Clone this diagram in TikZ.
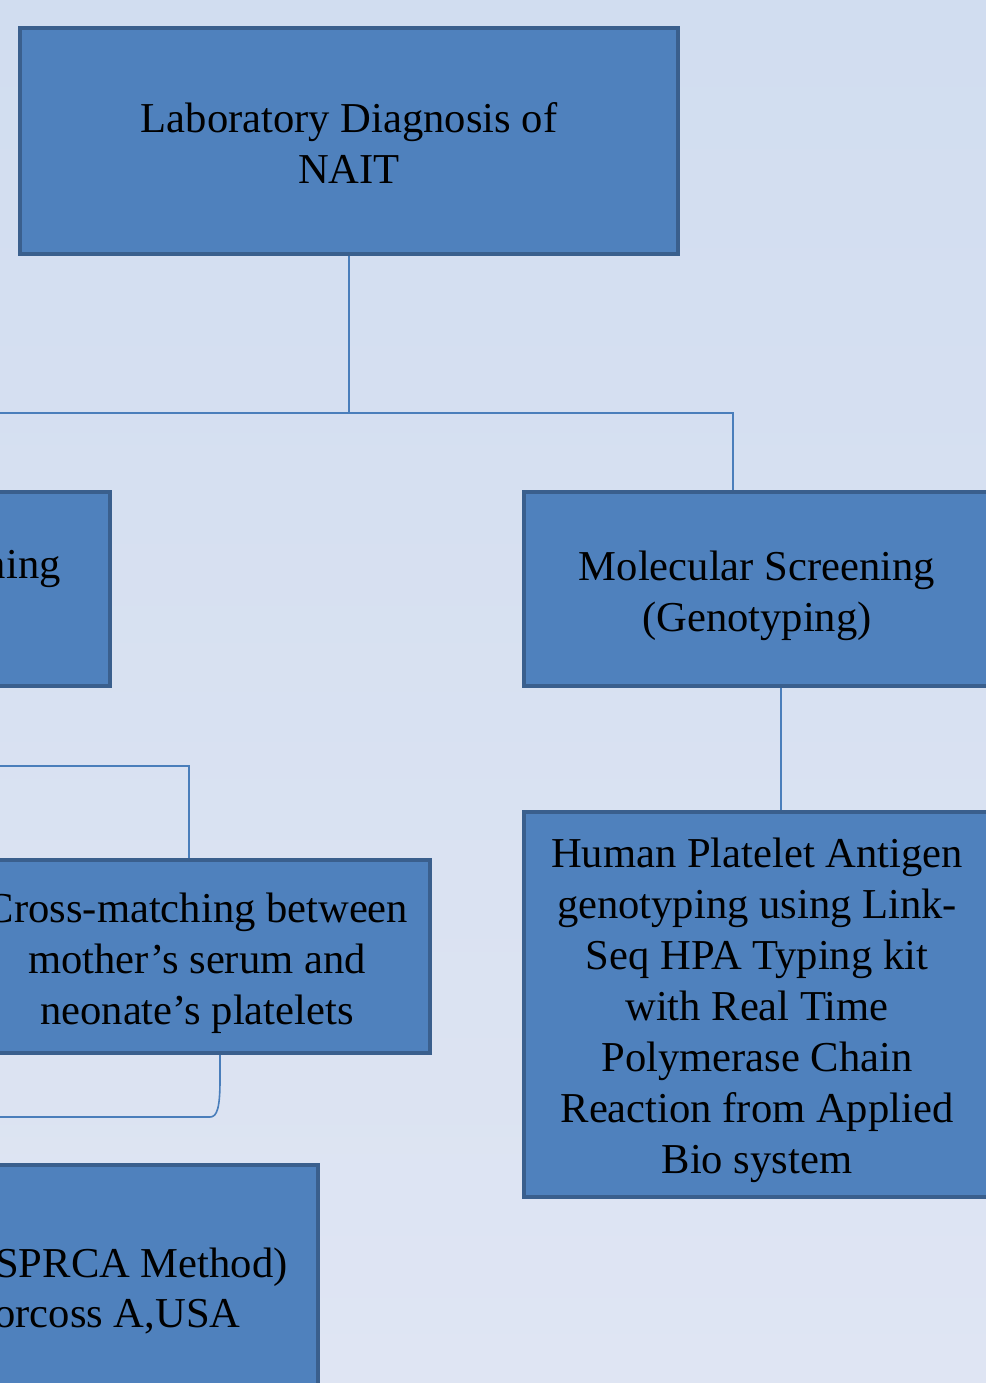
\documentclass[tikz,border=0pt]{standalone}
\usepackage{fontspec}
\setmainfont{Liberation Serif}
\usetikzlibrary{calc}
\definecolor{boxfill}{HTML}{4F81BD}
\definecolor{boxline}{HTML}{3A5F8D}
\definecolor{connc}{HTML}{4A7EBB}
\definecolor{bgtop}{HTML}{D1DDF0}
\definecolor{bgbot}{HTML}{DFE5F3}
\begin{document}
\begin{tikzpicture}[x=0.5pt,y=-0.5pt,
  box/.style={draw=boxline, line width=2pt, fill=boxfill, inner sep=0pt},
  txt/.style={inner sep=0pt, align=center, font=\fontsize{21.3}{25.5}\selectfont},
  conn/.style={draw=connc, line width=0.8pt}]
\useasboundingbox (0,0) rectangle (986,1383);
\clip (0,0) rectangle (986,1383);
\shade[top color=bgtop, bottom color=bgbot] (0,0) rectangle (986,1383);

\node[box, minimum width=329pt, minimum height=113pt] (top) at (349,141) {};
\node[txt] (toptxt) at ($(top.center)+(0,2)$) {Laboratory Diagnosis of\\NAIT};
\node[box, minimum width=205pt, minimum height=97pt] (left) at (-95,589) {};
\node[txt, anchor=east] (lefttxt) at (61,569) {ning};
\node[box, minimum width=233pt, minimum height=97pt] (mol) at (757,589) {};
\node[txt] (moltxt) at ($(mol.center)+(0,7)$) {Molecular Screening\\(Genotyping)};
\node[box, minimum width=233pt, minimum height=96.5pt] (cm) at (197,956.5) {};
\node[txt] (cmtxt) at ($(cm.center)+(0,7)$) {Cross-matching between\\mother’s serum and\\neonate’s platelets};
\node[box, minimum width=233pt, minimum height=192.5pt] (hpa) at (757,1004.5) {};
\node[txt] (hpatxt) at ($(hpa.center)+(0,6)$) {Human Platelet Antigen\\genotyping using Link-\\Seq HPA Typing kit\\with Real Time\\Polymerase Chain\\Reaction from Applied\\Bio system};
\node[box, minimum width=259pt, minimum height=150pt] (bot) at (59,1315) {};
\node[txt, anchor=east] (sprca) at (288,1267) {(SPRCA Method)};
\node[txt, anchor=east] (norc) at (241,1317) {orcoss A,USA};

\coordinate (j1) at (349,413);
\coordinate (lend1) at (-10,413);
\coordinate (lend2) at (-10,766);
\coordinate (lend3) at (-10,1117);
\coordinate (molin) at ($(mol.north)+(-24,0)$);
\coordinate (molout) at ($(mol.south)+(24,0)$);
\coordinate (hpain) at ($(hpa.north)+(24,0)$);
\coordinate (cmin) at ($(cm.north)+(-8,0)$);
\coordinate (cmout) at ($(cm.south)+(23,0)$);
\coordinate (cmturn) at (210,1117);

\draw[conn] (top.south) -- (j1);
\draw[conn] (lend1) -- (j1) -| (molin);
\draw[conn] (molout) -- (hpain);
\draw[conn] (lend2) -| (cmin);
\draw[conn] (cmout) -- ++(0,25) .. controls +(0,28) and +(7,0) .. (cmturn) -- (lend3);
\end{tikzpicture}
\end{document}
